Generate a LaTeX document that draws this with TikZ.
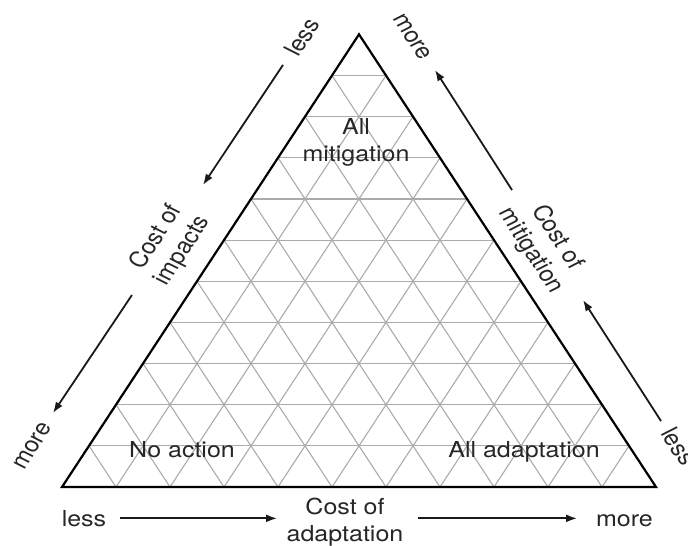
\documentclass[tikz,border=0pt]{standalone}
\usepackage{fontspec}
\setmainfont{TeX Gyre Heros}
\usetikzlibrary{calc,arrows.meta}
\begin{document}
\begin{tikzpicture}[x=1pt,y=1pt,yscale=0.88,transform shape,
  lbl/.style={font=\fontsize{25}{30.5}\selectfont, text=black!85, inner sep=0pt, align=center},
  edgeline/.style={line width=2.2pt, line join=miter},
  gridline/.style={line width=1.1pt, draw=black!33},
  arr/.style={line width=1.8pt, draw=black!90, -{Latex[length=11pt,width=8pt]}}]
\useasboundingbox (0,0) rectangle (688,619.32);
\coordinate (A) at (62,65.9);
\coordinate (B) at (656,65.9);
\coordinate (C) at (359,580.3);
% grid
\foreach \i in {1,...,10}{
  \draw[gridline] ($(A)!\i/11!(C)$) -- ($(B)!\i/11!(C)$);
  \draw[gridline] ($(A)!\i/11!(B)$) -- ($(C)!\i/11!(B)$);
  \draw[gridline] ($(A)!\i/11!(B)$) -- ($(A)!\i/11!(C)$);
}
\draw[edgeline] (A) -- (B) -- (C) -- cycle;
% labels inside
\node[lbl] (allmit) at (356,457.4) {All\\mitigation};
\node[lbl, anchor=base] (noact) at (182,100) {No action};
\node[lbl, anchor=base] (alladapt) at (524,100) {All adaptation};
% left side
\node[lbl, rotate=60] (lessL) at (302,577.3) {less};
\node[lbl, rotate=60] (costI) at (169.5,342) {Cost of\\impacts};
\node[lbl, rotate=60] (moreL) at (33,112.5) {more};
% right side
\node[lbl, rotate=-60] (moreR) at (412,577.3) {more};
\node[lbl, rotate=-60] (costM) at (544,342) {Cost of\\mitigation};
\node[lbl, rotate=-60] (lessR) at (679,112) {less};
% bottom
\node[lbl, anchor=base] (lessB) at (84,20.5) {less};
\node[lbl, anchor=base] (moreB) at (624.5,20.5) {more};
\node[lbl] (costA) at (345,25.6) {Cost of\\adaptation};
% arrow ends
\coordinate (aL1s) at (283,545.5); \coordinate (aL1e) at (203,409.1);
\coordinate (aL2s) at (132,284.1); \coordinate (aL2e) at (53,150);
\coordinate (aR1s) at (512,403.4); \coordinate (aR1e) at (435,539.8);
\coordinate (aR2s) at (661,140.9); \coordinate (aR2e) at (583,278.4);
\coordinate (aB1s) at (120,30.3); \coordinate (aB1e) at (277,30.3);
\coordinate (aB2s) at (418,30.3); \coordinate (aB2e) at (577,30.3);
\draw[arr] (aL1s) -- (aL1e);
\draw[arr] (aL2s) -- (aL2e);
\draw[arr] (aR1s) -- (aR1e);
\draw[arr] (aR2s) -- (aR2e);
\draw[arr] (aB1s) -- (aB1e);
\draw[arr] (aB2s) -- (aB2e);
\end{tikzpicture}
\end{document}
